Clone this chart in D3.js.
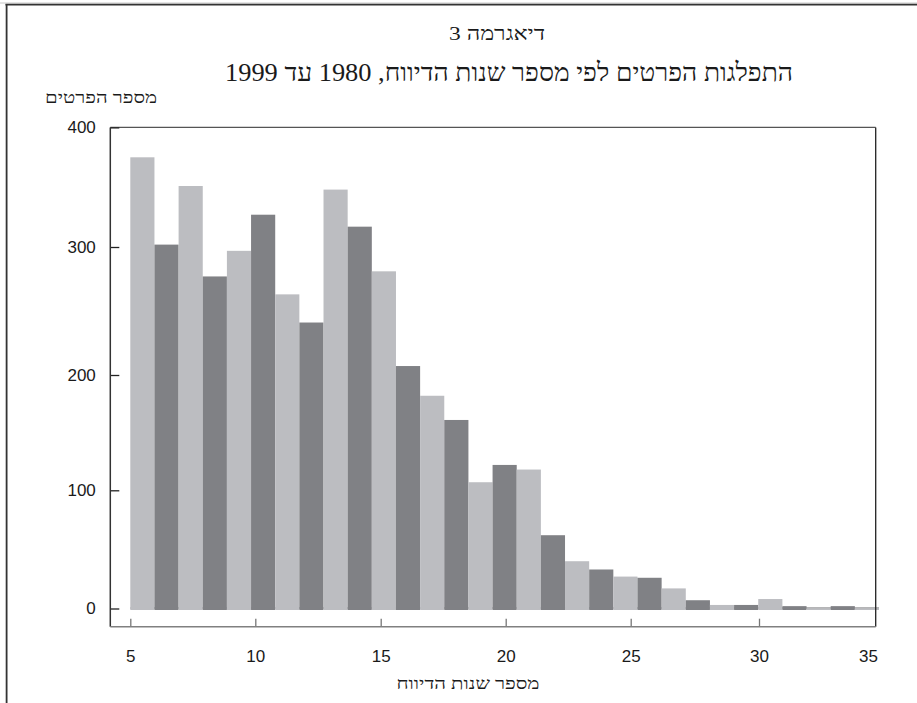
<!DOCTYPE html>
<html lang="he">
<head>
<meta charset="utf-8">
<script src="https://cdn.jsdelivr.net/npm/d3@7"></script>
<style>
  html, body { margin: 0; padding: 0; background: #fff; }
  svg { display: block; }
  .heb { font-family: "Liberation Serif", "DejaVu Serif", serif; fill: #1a1a1a; }
  .tick text { font-family: "Liberation Sans", Arial, sans-serif; font-size: 17px; fill: #1a1a1a; }
</style>
</head>
<body>
<svg id="chart" width="917" height="703"></svg>
<script>
// ---- data ----
const categories = [5, 6, 7, 8, 9, 10, 11, 12, 13, 14, 15, 16, 17, 18, 19, 20,
                    21, 22, 23, 24, 25, 26, 27, 28, 29, 30, 31, 32, 33, 34, 35];
const counts = [375, 302, 351, 277, 297, 327, 263, 241, 348, 317, 281, 207, 182, 161, 107, 122,
                118, 62, 40, 33, 27, 26, 17, 7, 3, 3, 8, 2, 0, 2, 0];
const xTicks = [5, 10, 15, 20, 25, 30, 35];
const yTicks = [0, 100, 200, 300, 400];
const supTitle = "דיאגרמה 3";
const title = "התפלגות הפרטים לפי מספר שנות הדיווח, 1980 עד 1999";
const yTitle = "מספר הפרטים";
const xTitle = "מספר שנות הדיווח";

// ---- layout ----
const svg = d3.select("#chart");
const frame = { left: 110.3, right: 875.7, top: 127.4, bottom: 626.7 };

// scanned original axis spacing (polylinear to follow printed tick positions)
const y = d3.scaleLinear()
  .domain(yTicks)
  .range([608.5, 490.3, 375, 247, 127.4]);
const x = d3.scaleLinear()
  .domain(xTicks)
  .range([130.3, 255.3, 380.7, 505.7, 630.7, 759, 868]);
const band = d3.scaleBand()
  .domain(categories)
  .range([x(5), 879])
  .padding(0);

const lightCol = "#bcbdc1", darkCol = "#808185";

// page border lines
svg.append("line").attr("x1", 0).attr("x2", 917).attr("y1", 3).attr("y2", 3)
  .attr("stroke", "#c8c8c8").attr("stroke-width", 1);
svg.append("line").attr("x1", 5.5).attr("x2", 917).attr("y1", 4.6).attr("y2", 4.6)
  .attr("stroke", "#333").attr("stroke-width", 1.8);
svg.append("line").attr("x1", 6.6).attr("x2", 6.6).attr("y1", 4).attr("y2", 703)
  .attr("stroke", "#333").attr("stroke-width", 1.8);

// titles
function hebText(str, cx, baseY, size, width) {
  svg.append("text").attr("class", "heb")
    .attr("x", cx - width / 2).attr("y", baseY)
    .attr("text-anchor", "start")
    .attr("textLength", width).attr("lengthAdjust", "spacingAndGlyphs")
    .style("font-size", size + "px")
    .text(str);
}
hebText(supTitle, 497, 40, 19, 96);
hebText(title, 509, 81, 26, 568);
hebText(yTitle, 101, 103, 17, 112);
hebText(xTitle, 468, 689, 17, 143);

// zero line under bars
svg.append("line")
  .attr("x1", band.range()[0]).attr("x2", band.range()[1])
  .attr("y1", y(0) - 0.5).attr("y2", y(0) - 0.5)
  .attr("stroke", "#6a6a6e").attr("stroke-width", 1);

// bars
svg.append("g").selectAll("rect")
  .data(categories.map((c, i) => ({ c, v: counts[i], i })))
  .join("rect")
  .attr("x", d => band(d.c))
  .attr("width", band.bandwidth())
  .attr("y", d => y(d.v))
  .attr("height", d => Math.max(0, y(0) - y(d.v) + 1.5))
  .attr("fill", d => d.i % 2 === 0 ? lightCol : darkCol);

// frame: top and right
svg.append("line").attr("x1", frame.left).attr("x2", frame.right)
  .attr("y1", frame.top).attr("y2", frame.top)
  .attr("stroke", "#555").attr("stroke-width", 1.3);
svg.append("line").attr("x1", frame.right).attr("x2", frame.right)
  .attr("y1", frame.top).attr("y2", frame.bottom)
  .attr("stroke", "#222").attr("stroke-width", 1.3);

// y axis
const yAxis = svg.append("g")
  .attr("transform", `translate(${frame.left},0)`)
  .call(d3.axisLeft(y).tickValues(yTicks).tickSize(-9).tickPadding(14.5).tickFormat(d3.format("d")));
yAxis.select(".domain").remove();
yAxis.selectAll(".tick line").attr("stroke", "#222").attr("stroke-width", 1.3);
svg.append("line").attr("x1", frame.left).attr("x2", frame.left)
  .attr("y1", frame.top).attr("y2", frame.bottom)
  .attr("stroke", "#333").attr("stroke-width", 1.5);

// x axis
const xAxis = svg.append("g")
  .attr("transform", `translate(0,${frame.bottom})`)
  .call(d3.axisBottom(x).tickValues(xTicks).tickSize(-8).tickPadding(23).tickFormat(d3.format("d")));
xAxis.select(".domain").remove();
xAxis.selectAll(".tick line").attr("stroke", "#777").attr("stroke-width", 1.3);
xAxis.selectAll(".tick").filter(d => d === 35).select("line").remove();
svg.append("line").attr("x1", frame.left).attr("x2", frame.right)
  .attr("y1", frame.bottom).attr("y2", frame.bottom)
  .attr("stroke", "#808080").attr("stroke-width", 1.4);
</script>
</body>
</html>
